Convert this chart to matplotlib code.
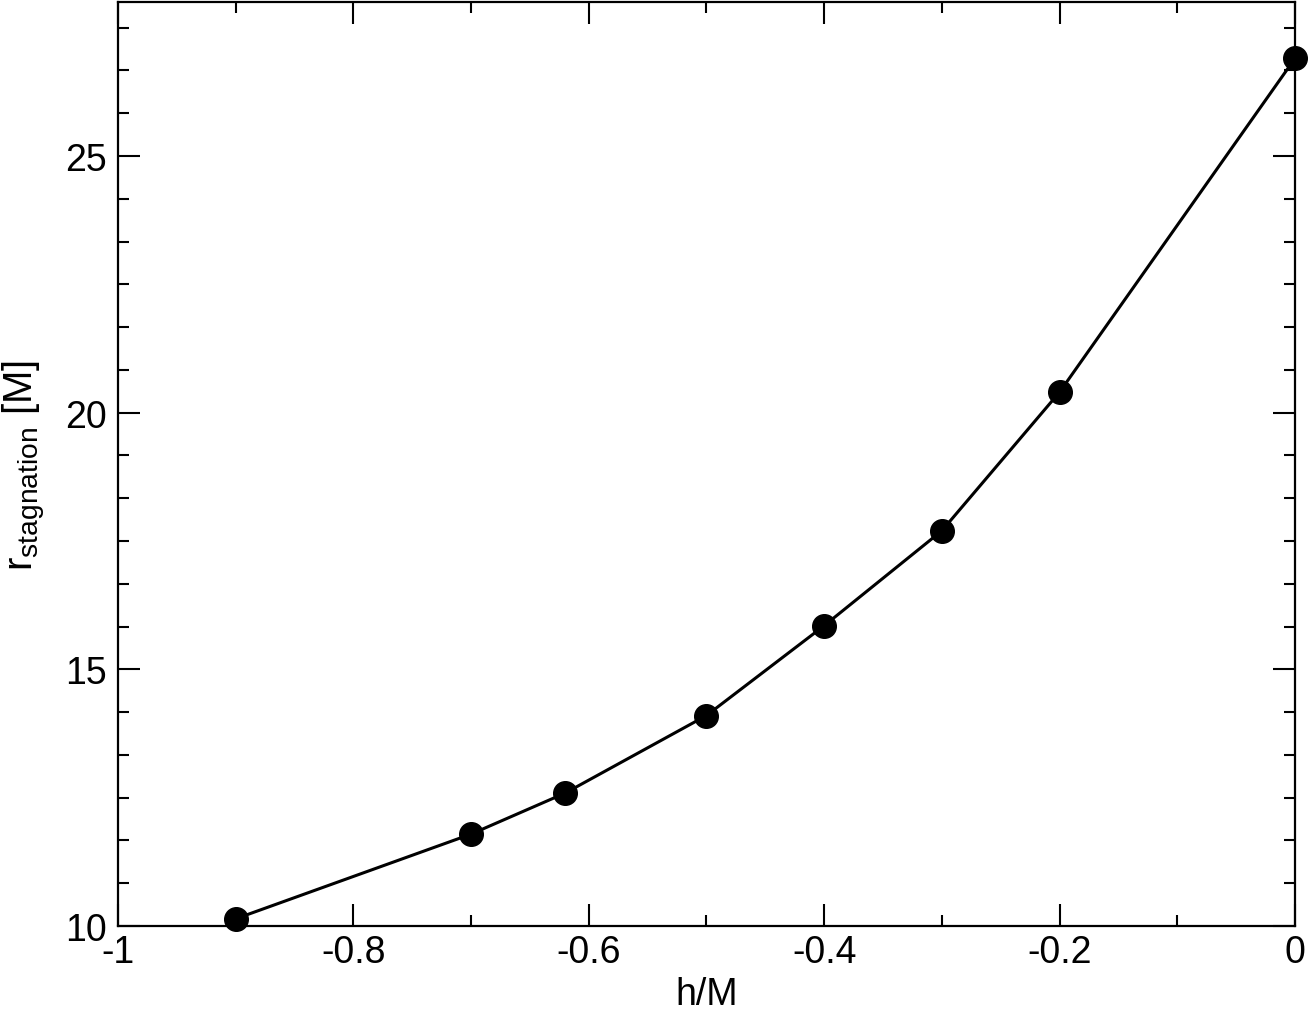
import matplotlib
matplotlib.use('Agg')
import matplotlib.pyplot as plt
from matplotlib.ticker import MultipleLocator

plt.rcParams['font.family'] = ['Liberation Sans', 'DejaVu Sans']
plt.rcParams['mathtext.fontset'] = 'custom'
plt.rcParams['mathtext.rm'] = 'Liberation Sans'
plt.rcParams['mathtext.it'] = 'Liberation Sans:italic'

h = [-0.9, -0.7, -0.62, -0.5, -0.4, -0.3, -0.2, 0.0]
r_stag = [10.14, 11.79, 12.59, 14.10, 15.85, 17.70, 20.40, 26.90]

fig = plt.figure(figsize=(13.08, 10.12), dpi=100)
ax = fig.add_axes([0.0902, 0.084, 0.8998, 0.913])

ax.plot(h, r_stag, color='black', lw=2.2, marker='o', markersize=17, zorder=3, clip_on=False)

ax.set_xlim(-1, 0)
ax.set_ylim(10, 28)
ax.xaxis.set_major_locator(MultipleLocator(0.2))
ax.xaxis.set_minor_locator(MultipleLocator(0.1))
ax.yaxis.set_major_locator(MultipleLocator(5))
ax.yaxis.set_minor_locator(MultipleLocator(5 / 6))
ax.xaxis.set_major_formatter(plt.FuncFormatter(lambda v, p: '%g' % round(v, 2)))

ax.tick_params(which='both', direction='in', top=True, right=True, width=1.5, labelsize=27)
ax.tick_params(which='major', length=16)
ax.tick_params(which='minor', length=8)
ax.tick_params(axis='y', pad=8)
ax.tick_params(axis='x', pad=6)
for s in ax.spines.values():
    s.set_linewidth(1.6)

ax.set_xlabel('h/M', fontsize=27, labelpad=4)
ax.set_ylabel(r'r$_{\mathrm{stagnation}}$ [M]', fontsize=29, labelpad=12)

fig.savefig('out.png', dpi=100)
